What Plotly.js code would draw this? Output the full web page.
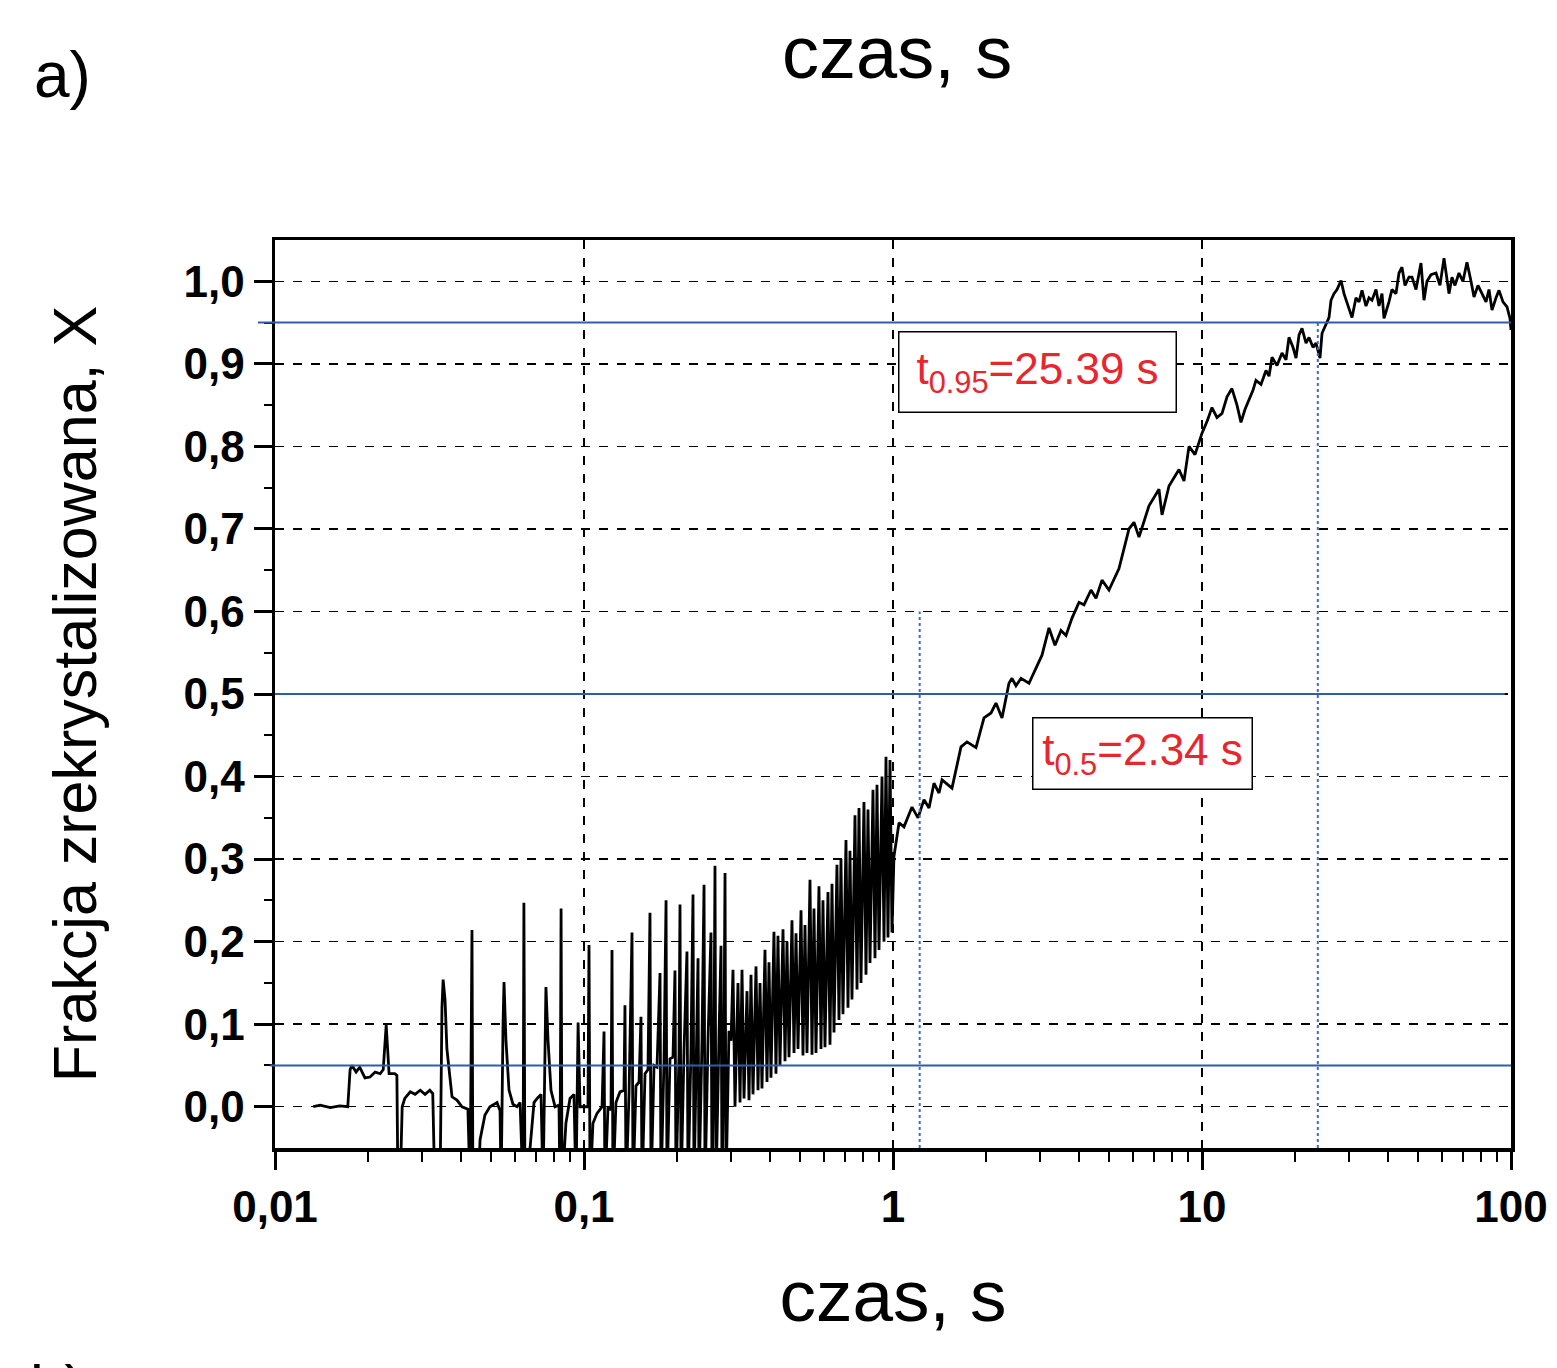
<!DOCTYPE html>
<html>
<head>
<meta charset="utf-8">
<script src="https://cdn.plot.ly/plotly-3.0.1.min.js"></script>
<style>html,body{margin:0;padding:0;background:#fff;}#chart{width:1557px;height:1368px;}</style>
</head>
<body>
<div id="chart"></div>
<script>
// ---- data ----
// early part (0.013 s - 0.1 s)
const tEarly = [0.0133,0.0140,0.0151,0.0162,0.0172,0.0175,0.01775,0.0183,0.0188,0.01955,0.0203,0.0211,0.0219,0.0224,0.0229,0.0234,0.0244,0.0248,0.0250,0.0254,0.0258,0.0263,0.0274,0.0284,0.0295,0.0306,0.0317,0.0324,0.0329,0.0342,0.0347,0.0350,0.0355,0.0360,0.0374,0.0388,0.0403,0.0421,0.0428,0.0434,0.0437,0.0454,0.0461,0.0478,0.0496,0.0523,0.0535,0.0539,0.0547,0.0551,0.0559,0.0572,0.0589,0.0607,0.0621,0.0635,0.0639,0.0644,0.0669,0.0689,0.0705,0.0726,0.0737,0.0753,0.0765,0.0782,0.0806,0.0830,0.0836,0.0843,0.0849,0.0874,0.0901,0.0928,0.0942,0.0957,0.0971,0.0993];
const xEarly = [0.0,0.002,-0.001,0.001,0.0,0.045,0.05,0.042,0.048,0.035,0.036,0.042,0.04,0.045,0.099,0.04,0.04,0.038,-0.1,-0.1,0.0,0.01,0.018,0.015,0.02,0.015,0.02,0.016,-0.1,-0.1,0.12,0.154,0.13,0.07,0.012,0.008,0.0,-0.003,-0.1,0.214,-0.1,-0.1,-0.04,-0.01,0.0,0.005,-0.005,-0.1,0.1,0.151,0.08,0.02,0.003,0.0,0.005,-0.1,0.247,-0.1,-0.05,0.005,0.01,0.015,-0.1,0.145,0.08,0.02,0.0,0.002,-0.1,0.240,-0.1,-0.02,0.01,0.015,-0.1,0.102,0.0,0.0];
// spiky part (0.1 s - 0.3 s)
const tSpikes = [0.1,0.1030,0.1038,0.1046,0.1069,0.1102,0.1144,0.1161,0.1169,0.1196,0.1223,0.1232,0.1241,0.1269,0.1308,0.1347,0.1357,0.1368,0.1399,0.1430,0.1441,0.1473,0.1507,0.1529,0.1541,0.1576,0.1611,0.1635,0.1648,0.1685,0.1723,0.1762,0.1775,0.1815,0.1843,0.1856,0.1898,0.1941,0.1970,0.1985,0.2030,0.2045,0.2061,0.2107,0.2154,0.2171,0.2220,0.2253,0.2270,0.2321,0.2339,0.2356,0.2409,0.2446,0.2464,0.2520,0.2576,0.2596,0.2635,0.2654,0.2674,0.2735,0.2776,0.2797,0.2839,0.2860,0.2881,0.2946,0.2991];
const xSpikes = [0.0,0.0,0.196,-0.1,-0.02,-0.008,0.0,0.091,-0.1,0.0,-0.004,0.19,-0.1,0.005,0.018,0.02,0.123,-0.1,0.017,0.211,-0.1,0.025,0.03,0.109,-0.1,0.04,0.045,0.235,-0.1,0.05,0.048,0.162,-0.1,0.055,0.25,-0.1,0.058,0.06,0.165,-0.1,0.065,0.245,-0.1,0.068,0.188,-0.1,0.072,0.257,-0.1,0.075,0.18,-0.1,0.08,0.269,-0.1,0.082,0.211,-0.1,0.085,0.292,-0.1,0.087,0.195,-0.1,0.09,0.283,-0.1,0.092,0.08];
// dense oscillation (0.3 s - 1 s)
const tDense = [0.3035,0.3081,0.3150,0.3198,0.3246,0.3295,0.3369,0.3420,0.3471,0.3523,0.3603,0.3657,0.3712,0.3767,0.3852,0.3910,0.3969,0.4028,0.4119,0.4181,0.4244,0.4307,0.4406,0.4472,0.4539,0.4607,0.4711,0.4782,0.4854,0.4927,0.5039,0.5113,0.5190,0.5268,0.5387,0.5468,0.5550,0.5633,0.5760,0.5848,0.5935,0.6024,0.6160,0.6253,0.6347,0.6442,0.6587,0.6686,0.6786,0.6888,0.7044,0.7150,0.7257,0.7366,0.7534,0.7647,0.7762,0.7877,0.8055,0.8177,0.8300,0.8425,0.8615,0.8744,0.8876,0.9009,0.9213,0.9352,0.9491,0.9634,0.9779,0.9926];
const xDense = [0.166,0.0,0.15,0.005,0.166,0.01,0.14,0.008,0.16,0.015,0.17,0.02,0.15,0.022,0.19,0.03,0.175,0.035,0.212,0.04,0.207,0.05,0.215,0.055,0.2,0.06,0.226,0.065,0.21,0.07,0.238,0.062,0.22,0.065,0.275,0.063,0.24,0.065,0.267,0.07,0.25,0.072,0.26,0.075,0.27,0.09,0.293,0.105,0.30,0.112,0.323,0.12,0.31,0.13,0.353,0.142,0.362,0.15,0.369,0.16,0.36,0.174,0.384,0.18,0.39,0.19,0.40,0.20,0.424,0.205,0.42,0.211];
// growth and plateau (1 s - 100 s)
const tLate = [1.007,1.046,1.085,1.152,1.205,1.260,1.308,1.357,1.409,1.441,1.552,1.660,1.736,1.856,1.970,2.076,2.154,2.253,2.373,2.427,2.500,2.596,2.755,2.924,3.035,3.198,3.344,3.497,3.630,3.796,3.999,4.151,4.373,4.539,4.747,5.0,5.387,5.804,6.024,6.253,6.737,7.257,7.423,7.820,8.425,8.744,9.077,9.491,10,10.38,10.77,11.18,11.61,12.05,12.50,12.98,13.37,13.78,14.19,14.62,14.95,15.52,16.11,16.48,16.85,17.49,18.15,18.70,19.12,19.70,20.15,20.61,21.07,21.71,22.20,22.87,23.39,23.73,24.09,24.46,25.00,25.38,25.76,26.15,26.74,27.35,28.18,28.81,29.46,30.58,31.50,32.22,32.95,33.94,34.71,35.49,36.57,37.39,38.24,38.82,40.28,41.19,42.44,43.40,44.38,45.39,46.76,47.82,49.27,51.13,52.29,53.47,55.09,57.19,58.90,60.70,63.00,64.42,65.87,67.86,69.92,72.03,74.23,75.91,78.20,80.55,83.00,84.88,86.80,89.44,91.45,94.21,97.07,99.26,100];
const xLate = [0.303,0.344,0.339,0.363,0.35,0.372,0.362,0.392,0.38,0.396,0.386,0.436,0.442,0.435,0.471,0.477,0.489,0.471,0.513,0.519,0.51,0.519,0.513,0.533,0.547,0.58,0.559,0.577,0.571,0.592,0.611,0.608,0.626,0.616,0.638,0.626,0.652,0.70,0.708,0.69,0.728,0.748,0.717,0.752,0.772,0.758,0.80,0.79,0.816,0.83,0.847,0.835,0.84,0.86,0.87,0.85,0.829,0.845,0.856,0.868,0.88,0.875,0.892,0.885,0.908,0.898,0.913,0.905,0.932,0.92,0.907,0.935,0.943,0.925,0.932,0.92,0.925,0.915,0.907,0.937,0.945,0.952,0.956,0.977,0.985,0.99,1.001,0.985,0.975,0.956,0.98,0.975,0.989,0.97,0.98,0.977,0.99,0.97,0.985,0.955,0.975,0.99,0.985,1.01,1.017,0.995,1.005,1.005,0.99,1.022,0.977,1.0,1.008,1.01,0.995,1.028,0.985,1.005,0.995,1.01,1.0,1.023,1.0,0.981,0.995,0.985,0.975,0.99,0.965,0.98,0.989,0.975,0.969,0.955,0.941];

// reference levels and times
const levels = [0.95, 0.5, 0.05];
const markTimes = [1.22, 23.7];
const markTops = [0.6, 0.95];

// axis ticks
const xTickVals = [0.01, 0.1, 1, 10, 100];
const xTickText = ['0,01', '0,1', '1', '10', '100'];
const yTickVals = [0, 0.1, 0.2, 0.3, 0.4, 0.5, 0.6, 0.7, 0.8, 0.9, 1.0];
const yTickText = ['0,0', '0,1', '0,2', '0,3', '0,4', '0,5', '0,6', '0,7', '0,8', '0,9', '1,0'];

// ---- build ----
const tAll = tEarly.concat(tSpikes, tDense, tLate);
const xAll = xEarly.concat(xSpikes, xDense, xLate);

const minorX = [];
[0.01, 0.1, 1, 10].forEach(d => { for (let k = 2; k <= 9; k++) minorX.push(+(d * k).toPrecision(3)); });
const minorY = [];
for (let k = 0; k < 10; k++) minorY.push(+(0.05 + 0.1 * k).toFixed(2));

const BLUE = '#2e5cae';
const FONT = 'Liberation Sans, Arial, Helvetica, sans-serif';

const traces = [
  { x: tAll, y: xAll, type: 'scatter', mode: 'lines', line: { color: '#000', width: 2.8 }, hoverinfo: 'skip' }
];
markTimes.forEach((t, i) => {
  traces.push({ x: [t, t], y: [-0.05, markTops[i]], type: 'scatter', mode: 'lines',
    line: { color: '#3d6cc0', width: 2, dash: 'dot' }, hoverinfo: 'skip' });
});

const lineStart = [-0.0138, 0, -0.004];
const lineEnd = [1, 0.995, 1];
const shapes = levels.map((v, i) => ({
  type: 'line', xref: 'paper', yref: 'y', x0: lineStart[i], x1: lineEnd[i], y0: v, y1: v,
  line: { color: BLUE, width: 2 }, layer: 'above'
}));

const axisCommon = {
  showline: true, linecolor: '#000', linewidth: 3.5, mirror: true,
  ticks: 'outside', ticklen: 18, tickwidth: 3, tickcolor: '#000',
  showgrid: true, gridcolor: '#000', gridwidth: 1.5, griddash: 'dash',
  zeroline: false,
  tickfont: { family: FONT, size: 44, color: '#000', weight: 'bold' }
};

const layout = {
  width: 1557, height: 1368,
  margin: { l: 275, r: 46, t: 240, b: 220 },
  paper_bgcolor: '#fff', plot_bgcolor: '#fff',
  showlegend: false,
  font: { family: FONT, color: '#000' },
  xaxis: Object.assign({}, axisCommon, {
    type: 'log', range: [-2, 2],
    tickmode: 'array', tickvals: xTickVals, ticktext: xTickText,
    minor: { tickmode: 'array', tickvals: minorX, ticks: 'outside', ticklen: 10, tickwidth: 2, tickcolor: '#000', showgrid: false },
    title: { text: 'czas, s', font: { family: FONT, size: 73, color: '#000' }, standoff: 40 }
  }),
  yaxis: Object.assign({}, axisCommon, {
    range: [-0.05, 1.05],
    tickmode: 'array', tickvals: yTickVals, ticktext: yTickText,
    minor: { tickmode: 'array', tickvals: minorY, ticks: 'outside', ticklen: 8, tickwidth: 2, tickcolor: '#000', showgrid: false },
    title: { text: 'Frakcja zrekrystalizowana, X', font: { family: FONT, size: 61, color: '#000' }, standoff: 68 }
  }),
  shapes: shapes,
  annotations: [
    { xref: 'paper', yref: 'paper', x: 0.617, y: 0.855, xanchor: 'center', yanchor: 'middle',
      text: 't<sub>0.95</sub>=25.39 s', showarrow: false, font: { family: FONT, size: 44, color: '#e8262d' },
      bordercolor: '#000', borderwidth: 1.5, borderpad: 0, bgcolor: '#fff', width: 276, height: 79 },
    { xref: 'paper', yref: 'paper', x: 0.702, y: 0.435, xanchor: 'center', yanchor: 'middle',
      text: 't<sub>0.5</sub>=2.34 s', showarrow: false, font: { family: FONT, size: 44, color: '#e8262d' },
      bordercolor: '#000', borderwidth: 1.5, borderpad: 0, bgcolor: '#fff', width: 218, height: 70 },
    { xref: 'paper', yref: 'paper', x: 0.503, y: 1.207, xanchor: 'center', yanchor: 'middle',
      text: 'czas, s', showarrow: false, font: { family: FONT, size: 74, color: '#000' } },
    { xref: 'paper', yref: 'paper', x: -0.172, y: 1.182, xanchor: 'center', yanchor: 'middle',
      text: 'a)', showarrow: false, font: { family: FONT, size: 64, color: '#000' } },
    { xref: 'paper', yref: 'paper', x: -0.176, y: -0.2225, xanchor: 'center', yanchor: 'top',
      text: 'b)', showarrow: false, font: { family: FONT, size: 62, color: '#000' } }
  ]
};

Plotly.newPlot('chart', traces, layout, { displayModeBar: false, staticPlot: true });
</script>
</body>
</html>
